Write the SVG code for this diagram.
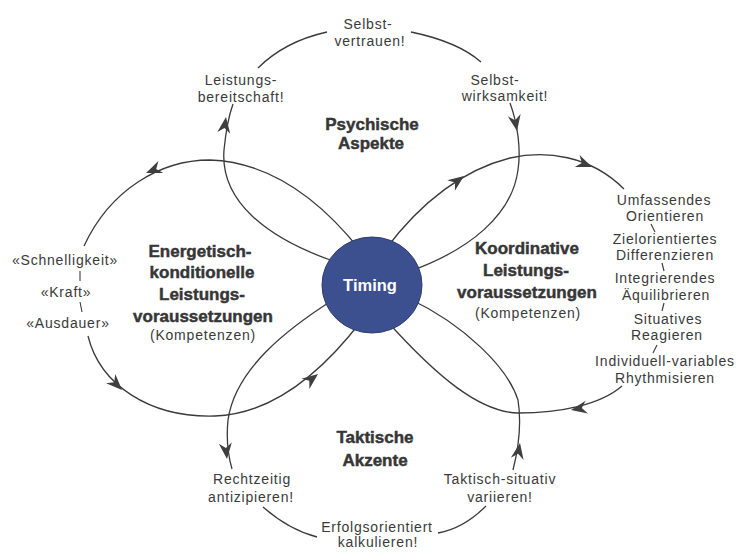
<svg xmlns="http://www.w3.org/2000/svg" width="736" height="552" viewBox="0 0 736 552">
  <style>
    .lbl { font-family: "Liberation Sans", Arial, sans-serif; font-size: 14px; letter-spacing: 0.8px; fill: #3a3a3a; text-anchor: middle; }
    .ttl { font-family: "Liberation Sans", Arial, sans-serif; font-size: 17px; font-weight: bold; fill: #363636; stroke: #363636; stroke-width: 0.45px; text-anchor: middle; }
    .ln { fill: none; stroke: #3a3a3a; stroke-width: 1.3; }
    .tick { fill: none; stroke: #3a3a3a; stroke-width: 1.1; }
    .hub { fill: #3c4f8f; stroke: #2e3d70; stroke-width: 1; }
    .hubtxt { font-family: "Liberation Sans", Arial, sans-serif; font-size: 16.5px; font-weight: bold; fill: #ffffff; text-anchor: middle; }
  </style>
  <defs>
    <!-- barbed arrowhead, tip at origin, pointing along +x -->
    <path id="ah" d="M0,0 L-16,-6.5 L-11,0 L-16,6.5 Z" fill="#3f3f3f"/>
  </defs>
  <rect width="736" height="552" fill="#ffffff"/>

  <g id="connectors">
    <!-- Psychische Aspekte loop -->
    <path class="ln" d="M 336 262 C 265 238, 220 200, 224 150 C 226 130, 229 115, 233 104"/>
    <path class="ln" d="M 258 68 C 276 50, 300 38, 327 32"/>
    <path class="ln" d="M 411 32 C 440 38, 465 48, 481 62"/>
    <path class="ln" d="M 510 103 C 518 125, 521 150, 518 170 C 512 215, 470 250, 408 272"/>
    <!-- Koordinative loop -->
    <path class="ln" d="M 385 250 C 415 210, 455 172, 510 158 C 545 150, 590 155, 624 189"/>
    <path class="ln" d="M 622 386 C 600 405, 560 413, 518 413 C 480 412, 438 378, 386 320"/>
    <!-- Taktische Akzente loop -->
    <path class="ln" d="M 336 298 C 285 330, 235 370, 228 420 C 226 440, 228 455, 232 469"/>
    <path class="ln" d="M 263 507 C 280 522, 298 532, 317 537"/>
    <path class="ln" d="M 438 533 C 455 530, 472 520, 486 506"/>
    <path class="ln" d="M 513 470 C 518 450, 522 425, 518 400 C 508 368, 465 325, 408 298"/>
    <!-- Energetisch-konditionelle loop -->
    <path class="ln" d="M 360 250 C 320 200, 270 162, 210 160 C 160 160, 110 190, 84 246"/>
    <path class="ln" d="M 88 336 C 100 385, 150 418, 215 416 C 270 414, 320 375, 362 320"/>

    <!-- arrowheads -->
    <use href="#ah" transform="translate(226,117) rotate(-82)"/>
    <use href="#ah" transform="translate(517,131) rotate(80)"/>
    <use href="#ah" transform="translate(464,176) rotate(-36)"/>
    <use href="#ah" transform="translate(592,167) rotate(22)"/>
    <use href="#ah" transform="translate(571,410) rotate(170)"/>
    <use href="#ah" transform="translate(520,443) rotate(-80)"/>
    <use href="#ah" transform="translate(227,459) rotate(84)"/>
    <use href="#ah" transform="translate(318,374) rotate(-38)"/>
    <use href="#ah" transform="translate(122,390) rotate(45)"/>
    <use href="#ah" transform="translate(146,173) rotate(158)"/>

    <!-- small separators inside the lists -->
    <path class="tick" d="M 80 271 L 80 281"/>
    <path class="tick" d="M 80 302 L 82 312"/>
    <path class="tick" d="M 651 224 L 655 232"/>
    <path class="tick" d="M 662 263 L 664 271"/>
    <path class="tick" d="M 664 303 L 662 311"/>
    <path class="tick" d="M 657 345 L 653 353"/>
  </g>

  <g id="timing">
    <ellipse class="hub" cx="372" cy="285" rx="50" ry="48"/>
    <text class="hubtxt" x="370" y="291">Timing</text>
  </g>

  <g id="psychische-aspekte">
    <text class="ttl" x="372" y="130">Psychische</text>
    <text class="ttl" x="371" y="149">Aspekte</text>
  </g>
  <g id="selbstvertrauen">
    <text class="lbl" x="368" y="29">Selbst-</text>
    <text class="lbl" x="370" y="46">vertrauen!</text>
  </g>
  <g id="leistungsbereitschaft">
    <text class="lbl" x="241" y="85">Leistungs-</text>
    <text class="lbl" x="241" y="102">bereitschaft!</text>
  </g>
  <g id="selbstwirksamkeit">
    <text class="lbl" x="495" y="85">Selbst-</text>
    <text class="lbl" x="505" y="101">wirksamkeit!</text>
  </g>

  <g id="energetisch-konditionelle">
    <text class="ttl" x="200" y="257">Energetisch-</text>
    <text class="ttl" x="202" y="278">konditionelle</text>
    <text class="ttl" x="202" y="300">Leistungs-</text>
    <text class="ttl" x="203" y="322">voraussetzungen</text>
    <text class="lbl" x="203" y="340">(Kompetenzen)</text>
  </g>
  <g id="konditionelle-faehigkeiten">
    <text class="lbl" x="65" y="265">«Schnelligkeit»</text>
    <text class="lbl" x="66" y="297">«Kraft»</text>
    <text class="lbl" x="68" y="328">«Ausdauer»</text>
  </g>

  <g id="koordinative">
    <text class="ttl" x="527" y="254">Koordinative</text>
    <text class="ttl" x="526" y="276">Leistungs-</text>
    <text class="ttl" x="527" y="298">voraussetzungen</text>
    <text class="lbl" x="528" y="318">(Kompetenzen)</text>
  </g>
  <g id="koordinative-faehigkeiten">
    <text class="lbl" x="664" y="205">Umfassendes</text>
    <text class="lbl" x="665" y="221">Orientieren</text>
    <text class="lbl" x="665" y="244">Zielorientiertes</text>
    <text class="lbl" x="665" y="260">Differenzieren</text>
    <text class="lbl" x="665" y="283">Integrierendes</text>
    <text class="lbl" x="666" y="300">Äquilibrieren</text>
    <text class="lbl" x="668" y="324">Situatives</text>
    <text class="lbl" x="667" y="340">Reagieren</text>
    <text class="lbl" x="665" y="366">Individuell-variables</text>
    <text class="lbl" x="665" y="383">Rhythmisieren</text>
  </g>

  <g id="taktische-akzente">
    <text class="ttl" x="375" y="443">Taktische</text>
    <text class="ttl" x="375" y="466">Akzente</text>
  </g>
  <g id="antizipieren">
    <text class="lbl" x="252" y="484">Rechtzeitig</text>
    <text class="lbl" x="251" y="502">antizipieren!</text>
  </g>
  <g id="variieren">
    <text class="lbl" x="500" y="484">Taktisch-situativ</text>
    <text class="lbl" x="500" y="502">variieren!</text>
  </g>
  <g id="kalkulieren">
    <text class="lbl" x="377" y="532">Erfolgsorientiert</text>
    <text class="lbl" x="378" y="547">kalkulieren!</text>
  </g>
</svg>
